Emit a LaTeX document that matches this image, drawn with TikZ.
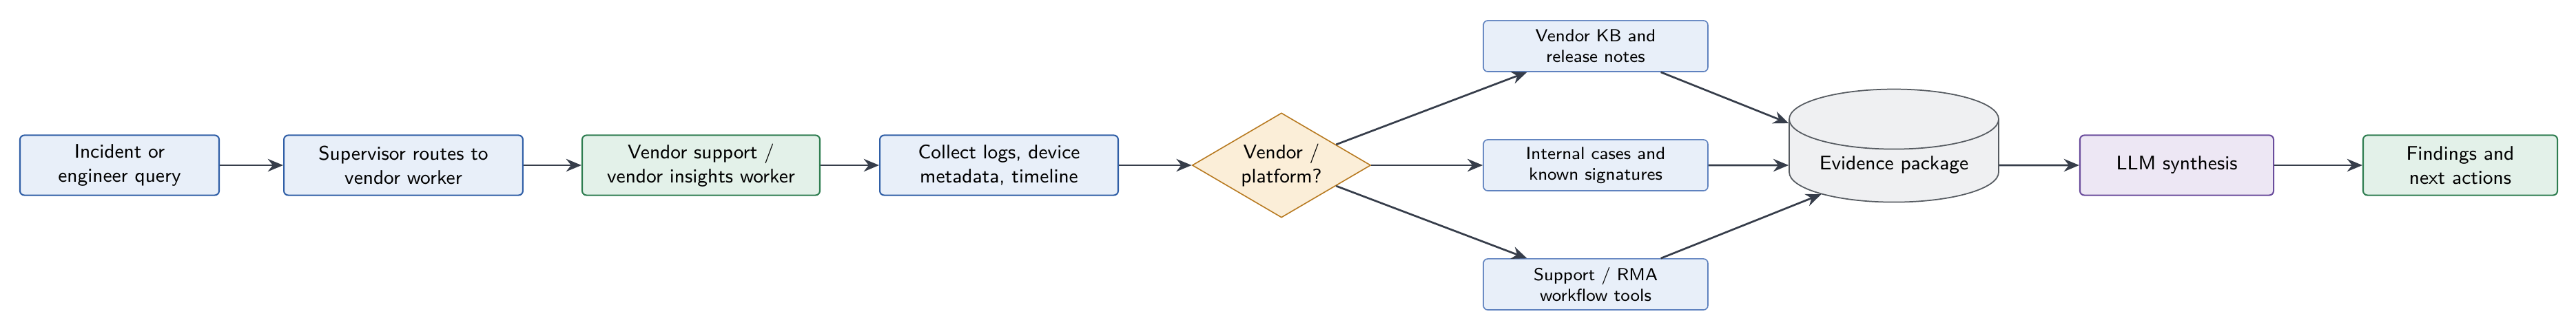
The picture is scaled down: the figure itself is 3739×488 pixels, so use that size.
\documentclass[tikz,border=0pt]{standalone}
\usetikzlibrary{shapes.geometric,arrows.meta}
\definecolor{bluedraw}{HTML}{2F5EA6}
\definecolor{bluefill}{HTML}{E8EFF9}
\definecolor{sidedraw}{HTML}{5F82BF}
\definecolor{greendraw}{HTML}{2E7D50}
\definecolor{greenfill}{HTML}{E3F1E9}
\definecolor{decdraw}{HTML}{B7791F}
\definecolor{decfill}{HTML}{FBEED8}
\definecolor{storedraw}{HTML}{555A60}
\definecolor{storefill}{HTML}{EFF0F2}
\definecolor{purpledraw}{HTML}{6A4C9C}
\definecolor{purplefill}{HTML}{EDE7F4}
\definecolor{arrowc}{HTML}{363D4A}
\begin{document}
\begin{tikzpicture}[x=0.3145pt,y=-0.3145pt,font=\sffamily\small,
  box/.style={draw, rounded corners=2pt, align=center, minimum height=27.4pt, inner sep=2pt, line width=0.65pt},
  bluebox/.style={box, draw=bluedraw, fill=bluefill},
  greenbox/.style={box, draw=greendraw, fill=greenfill},
  purplebox/.style={box, draw=purpledraw, fill=purplefill},
  sidebox/.style={draw=sidedraw, fill=bluefill, rounded corners=2pt, line width=0.5pt, align=center, font=\sffamily\footnotesize, minimum width=102.5pt, minimum height=23.3pt, inner sep=1pt},
  decision/.style={diamond, draw=decdraw, fill=decfill, line width=0.5pt, aspect=1.7, minimum width=81.5pt, minimum height=47.8pt, inner sep=0pt, align=center},
  store/.style={cylinder, shape border rotate=90, aspect=0.38, draw=storedraw, fill=storefill, minimum width=95.6pt, minimum height=51.6pt, line width=0.55pt, inner sep=2pt},
  flow/.style={-{Stealth[length=7pt,width=5.8pt]}, line width=0.85pt, draw=arrowc}]
\useasboundingbox (0,0) rectangle (3739,488);
\node[bluebox, minimum width=90.9pt] (b1) at (173.5,240) {Incident or\\engineer query};
\node[bluebox, minimum width=109.1pt] (b2) at (585.5,240) {Supervisor routes to\\vendor worker};
\node[greenbox, minimum width=108.5pt] (b3) at (1017.5,240) {Vendor support /\\vendor insights worker};
\node[bluebox, minimum width=108.8pt] (b4) at (1450,240) {Collect logs, device\\metadata, timeline};
\node[decision] (d) at (1860,240) {Vendor /\\platform?};
\node[sidebox] (s1) at (2316,67) {Vendor KB and\\release notes};
\node[sidebox] (s2) at (2316,240) {Internal cases and\\known signatures};
\node[sidebox] (s3) at (2316,413) {Support / RMA\\workflow tools};
\node[store] (ev) at (2749,240) {Evidence package};
\node[purplebox, minimum width=88.4pt] (llm) at (3159.5,240) {LLM synthesis};
\node[greenbox, minimum width=88.7pt] (out) at (3571,240) {Findings and\\next actions};
\draw[flow] (b1) -- (b2);
\draw[flow] (b2) -- (b3);
\draw[flow] (b3) -- (b4);
\draw[flow] (b4) -- (d);
\draw[flow] (d) -- (s1);
\draw[flow] (d) -- (s2);
\draw[flow] (d) -- (s3);
\draw[flow] (s1) -- (ev);
\draw[flow] (s2) -- (ev);
\draw[flow] (s3) -- (ev);
\draw[flow] (ev) -- (llm);
\draw[flow] (llm) -- (out);
\end{tikzpicture}
\end{document}
